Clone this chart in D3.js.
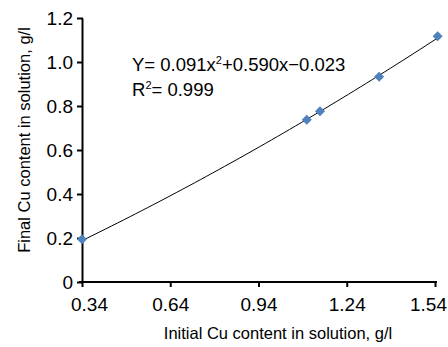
<!DOCTYPE html>
<html>
<head>
<meta charset="utf-8">
<script src="https://cdn.jsdelivr.net/npm/d3@7"></script>
<style>
  body { margin: 0; background: #fff; }
  svg text { font-family: Arial, "Liberation Sans", sans-serif; fill: #000; }
</style>
</head>
<body>
<div class="chart"></div>
<script>
// data
const initialCu = [0.34, 1.104, 1.149, 1.35, 1.549];
const finalCu = [0.194, 0.737, 0.776, 0.933, 1.117];
const xTicks = [0.34, 0.64, 0.94, 1.24, 1.54];
const yTicks = [0, 0.2, 0.4, 0.6, 0.8, 1.0, 1.2];
const fitCoef = [0.091, 0.590, -0.023]; // a, b, c of the trendline shown
const eqLines = ['Y= 0.091x', '+0.590x\u22120.023'];

const W = 448, H = 347;
const margin = { top: 18, right: 13, bottom: 65, left: 82 };
const width = W - margin.left - margin.right;
const height = H - margin.top - margin.bottom;

const svg = d3.select('.chart')
  .append('svg')
  .attr('width', W)
  .attr('height', H);

const chart = svg.append('g')
  .attr('transform', `translate(${margin.left},${margin.top})`);

const x = d3.scaleLinear().domain([0.34, 1.54]).range([0, width]);
const y = d3.scaleLinear().domain([0, 1.2]).range([height, 0]);

// trendline
const fit = v => fitCoef[0] * v * v + fitCoef[1] * v + fitCoef[2];
const xs = d3.range(0, 61).map(i => initialCu[0] + (d3.max(initialCu) - initialCu[0]) * i / 60);
chart.append('path')
  .datum(xs)
  .attr('fill', 'none')
  .attr('stroke', '#000')
  .attr('stroke-width', 1)
  .attr('d', d3.line().x(d => x(d)).y(d => y(fit(d))));

// Y axis
const yAxis = chart.append('g')
  .call(d3.axisLeft(y).tickValues(yTicks)
    .tickFormat(d => d === 0 ? '0' : d3.format('.1f')(d))
    .tickSize(6).tickSizeOuter(0).tickPadding(3));
yAxis.selectAll('line').attr('stroke', '#000').attr('stroke-width', 2).attr('x2', -5).attr('x1', 1);
yAxis.select('.domain').attr('stroke', '#000').attr('stroke-width', 2);
yAxis.selectAll('text').style('font-size', '19px').attr('x', -9);

// X axis
const xAxis = chart.append('g')
  .attr('transform', `translate(0,${height})`)
  .call(d3.axisBottom(x).tickValues(xTicks)
    .tickFormat(d3.format('.2f'))
    .tickSize(5).tickSizeOuter(0).tickPadding(11));
xAxis.selectAll('line').attr('stroke', '#000').attr('stroke-width', 2);
xAxis.select('.domain').attr('stroke', '#000').attr('stroke-width', 2)
  .attr('d', `M-3,0H${width + 2}`);
xAxis.selectAll('text').style('font-size', '19px')
  .attr('dx', (d, i) => i === 0 ? 7 : (i === xTicks.length - 1 ? -7 : 0));

// markers
chart.selectAll('.pt')
  .data(initialCu)
  .enter()
  .append('path')
  .attr('class', 'pt')
  .attr('transform', (d, i) => `translate(${x(d)},${y(finalCu[i])})`)
  .attr('d', d3.symbol().type(d3.symbolDiamond2).size(64))
  .attr('fill', '#4F81BD');

// equation
const eq = chart.append('text')
  .attr('x', 132 - margin.left)
  .attr('y', 71 - margin.top)
  .style('font-size', '18.5px');
eq.append('tspan').text(eqLines[0]);
eq.append('tspan').attr('dy', -7).style('font-size', '11px').text('2');
eq.append('tspan').attr('dy', 7).text(eqLines[1]);

const r2 = chart.append('text')
  .attr('x', 132 - margin.left)
  .attr('y', 96 - margin.top)
  .style('font-size', '18.5px');
r2.append('tspan').text('R');
r2.append('tspan').attr('dy', -7).style('font-size', '11px').text('2');
r2.append('tspan').attr('dy', 7).text('= 0.999');

// X axis label
svg.append('text')
  .attr('x', 278)
  .attr('y', 339)
  .attr('text-anchor', 'middle')
  .style('font-size', '16.5px')
  .text('Initial Cu content in solution, g/l');

// Y axis label
svg.append('text')
  .attr('transform', 'rotate(-90)')
  .attr('x', -140)
  .attr('y', 30)
  .attr('text-anchor', 'middle')
  .style('font-size', '16.5px')
  .text('Final Cu content in solution, g/l');
</script>
</body>
</html>
